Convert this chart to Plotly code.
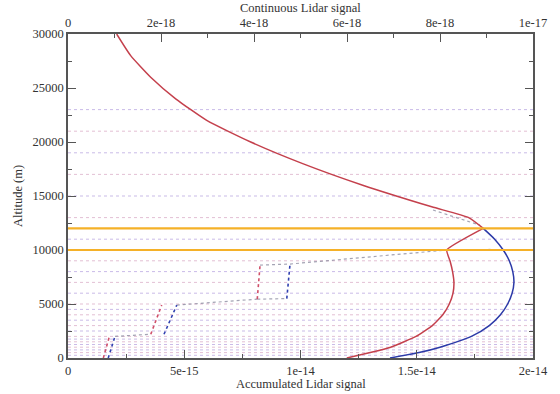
import plotly.graph_objects as go

# ---------------- data ----------------
# Continuous lidar signal (top axis)
cont_alt = [30000, 28000, 26000, 24000, 22000, 20000, 18000, 16000, 14000, 13000, 12000]
cont_val = [1.047e-18, 1.348e-18, 1.778e-18, 2.316e-18, 2.983e-18, 3.929e-18, 5.047e-18,
            6.338e-18, 7.822e-18, 8.617e-18, 8.931e-18]
cont2_alt = [13700, 12900, 12300]
cont2_val = [7.85e-18, 8.45e-18, 8.86e-18]

# Accumulated lidar signal (bottom axis)
red_alt = [12000, 10000, 9000, 8000, 7000, 6000, 5000, 4000, 3000, 2000, 1000, 500, 0]
red_val = [1.786e-14, 1.629e-14, 1.643e-14, 1.654e-14, 1.660e-14, 1.656e-14, 1.640e-14,
           1.612e-14, 1.567e-14, 1.497e-14, 1.388e-14, 1.300e-14, 1.199e-14]
blue_alt = [12000, 11000, 10000, 9000, 8000, 7000, 6000, 5000, 4000, 3000, 2000, 1000, 500, 0]
blue_val = [1.786e-14, 1.835e-14, 1.872e-14, 1.898e-14, 1.913e-14, 1.918e-14, 1.910e-14,
            1.891e-14, 1.860e-14, 1.812e-14, 1.735e-14, 1.600e-14, 1.51e-14, 1.385e-14]

# Layer-wise (step) profiles
red_step_alt = [0, 2000, None, 2200, 4900, None, 5450, 8600]
red_step_val = [1.52e-15, 1.78e-15, None, 3.56e-15, 4.03e-15, None, 8.14e-15, 8.26e-15]
blue_step_alt = [0, 2000, None, 2200, 4900, None, 5500, 8700]
blue_step_val = [1.73e-15, 2.02e-15, None, 4.13e-15, 4.68e-15, None, 9.41e-15, 9.55e-15]
link_alt = [2000, 2200, None, 4900, 5450, None, 5450, 5500, None, 8600, 8700, 10000, 10050]
link_val = [2.02e-15, 3.56e-15, None, 4.68e-15, 8.14e-15, None, 8.14e-15, 9.41e-15, None,
            8.26e-15, 9.55e-15, 1.629e-14, 1.82e-14]

# Layer boundaries and highlighted layer
grid_levels = [250, 500, 750, 1000, 1250, 1500, 1750, 2000, 2500, 3000, 3500, 4000, 4500,
               5000, 6000, 7000, 8000, 9000, 11000, 13000, 15000, 17000, 19000, 21000, 23000]
orange_levels = [10000, 12000]

bottom_ticks = [0, 5e-15, 1e-14, 1.5e-14, 2e-14]
bottom_text = ["0", "5e-15", "1e-14", "1.5e-14", "2e-14"]
top_ticks = [0, 2e-18, 4e-18, 6e-18, 8e-18, 1e-17]
top_text = ["0", "2e-18", "4e-18", "6e-18", "8e-18", "1e-17"]
alt_ticks = [0, 5000, 10000, 15000, 20000, 25000, 30000]
alt_text = ["0", "5000", "10000", "15000", "20000", "25000", "30000"]

x_title = "Accumulated Lidar signal"
x2_title = "Continuous Lidar signal"
y_title = "Altitude (m)"

# ---------------- figure ----------------
RED = "#c4404c"
BLUE = "#2c3aa8"
GREY = "rgba(140,140,160,0.8)"
FONT = "Liberation Serif"
TXT = "#333333"

fig = go.Figure()

fig.add_trace(go.Scatter(x=link_val, y=link_alt, mode="lines", xaxis="x", yaxis="y",
                         line=dict(color=GREY, width=1.2, dash="dot"), connectgaps=False))
fig.add_trace(go.Scatter(x=red_step_val, y=red_step_alt, mode="lines", xaxis="x", yaxis="y",
                         line=dict(color="#d0506a", width=1.6, dash="dot"), connectgaps=False))
fig.add_trace(go.Scatter(x=blue_step_val, y=blue_step_alt, mode="lines", xaxis="x", yaxis="y",
                         line=dict(color="#3040b0", width=1.6, dash="dot"), connectgaps=False))
fig.add_trace(go.Scatter(x=blue_val, y=blue_alt, mode="lines", xaxis="x", yaxis="y",
                         line=dict(color=BLUE, width=1.5, shape="spline", smoothing=0.6)))
fig.add_trace(go.Scatter(x=red_val, y=red_alt, mode="lines", xaxis="x", yaxis="y",
                         line=dict(color=RED, width=1.5, shape="spline", smoothing=0.4)))
fig.add_trace(go.Scatter(x=cont2_val, y=cont2_alt, mode="lines", xaxis="x2", yaxis="y",
                         line=dict(color=GREY, width=1.2, dash="dot")))
fig.add_trace(go.Scatter(x=cont_val, y=cont_alt, mode="lines", xaxis="x2", yaxis="y",
                         line=dict(color=RED, width=1.5, shape="spline", smoothing=0.5)))

shapes = []
for i, lv in enumerate(grid_levels):
    col = "rgba(150,120,210,0.5)" if i % 2 == 0 else "rgba(200,130,170,0.5)"
    shapes.append(dict(type="line", xref="paper", yref="y", x0=0, x1=1, y0=lv, y1=lv,
                       line=dict(color=col, width=1, dash="dot"), layer="below"))
for lv in orange_levels:
    shapes.append(dict(type="line", xref="paper", yref="y", x0=0, x1=1, y0=lv, y1=lv,
                       line=dict(color="#f5b128", width=2.2), layer="above"))

axis_common = dict(showgrid=False, zeroline=False, showline=True, linecolor="#555555",
                   linewidth=1.5, ticks="inside", tickcolor="#555555", tickwidth=1.3,
                   ticklen=8, automargin=False,
                   tickfont=dict(family=FONT, size=12.5, color=TXT))

annotations = [
    dict(text=x2_title, xref="paper", yref="paper", x=0.5, y=1, yshift=26,
         showarrow=False, xanchor="center", yanchor="middle",
         font=dict(family=FONT, size=12.5, color=TXT)),
    dict(text=x_title, xref="paper", yref="paper", x=0.5, y=0, yshift=-26,
         showarrow=False, xanchor="center", yanchor="middle",
         font=dict(family=FONT, size=12.5, color=TXT)),
    dict(text=y_title, xref="paper", yref="paper", x=0, xshift=-50, y=0.5,
         showarrow=False, xanchor="center", yanchor="middle", textangle=-90,
         font=dict(family=FONT, size=12.5, color=TXT)),
]

fig.update_layout(
    width=560, height=394,
    margin=dict(l=68, r=27, t=34, b=36, autoexpand=False),
    paper_bgcolor="white", plot_bgcolor="white",
    showlegend=False,
    font=dict(family=FONT, size=12.5, color=TXT),
    shapes=shapes,
    annotations=annotations,
    xaxis=dict(range=[0, 2e-14], tickvals=bottom_ticks, ticktext=bottom_text,
               minor=dict(dtick=2.5e-15, ticklen=4, ticks="inside", tickcolor="#555555"),
               **axis_common),
    xaxis2=dict(range=[0, 1e-17], tickvals=top_ticks, ticktext=top_text, overlaying="x",
                side="top", anchor="y",
                minor=dict(dtick=1e-18, ticklen=4, ticks="inside", tickcolor="#555555"),
                **axis_common),
    yaxis=dict(range=[0, 30000], tickvals=alt_ticks, ticktext=alt_text, mirror="ticks",
               minor=dict(dtick=2500, ticklen=4, ticks="inside", tickcolor="#555555"),
               **axis_common),
)

fig.write_html("out.html", config={"displayModeBar": False},
               post_script="document.body.style.margin='0px';document.body.style.padding='0px';")
